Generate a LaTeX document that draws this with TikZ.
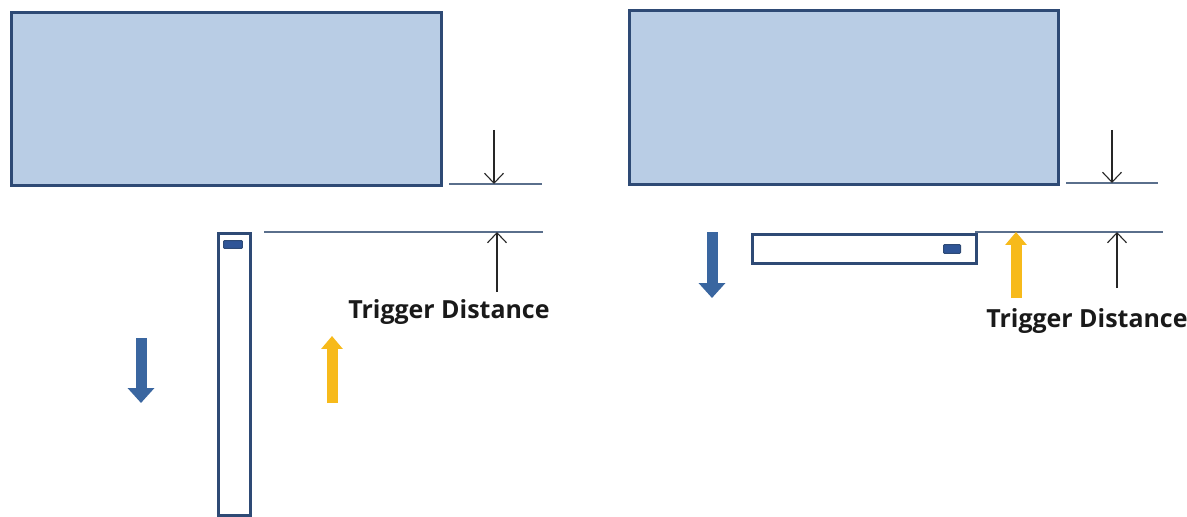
\documentclass[tikz,border=0pt]{standalone}
\usepackage{fontspec}
\setmainfont{Open Sans}
\usetikzlibrary{arrows.meta}
\definecolor{boxfill}{HTML}{B9CDE5}
\definecolor{boxline}{HTML}{2E4A75}
\definecolor{sensor}{HTML}{2F5597}
\definecolor{bluearrow}{HTML}{3A66A0}
\definecolor{yellowarrow}{HTML}{F7BA1B}
\definecolor{guide}{HTML}{5A6F8C}
\begin{document}
\begin{tikzpicture}[x=0.02cm,y=-0.02cm,
  bigbox/.style={draw=boxline,fill=boxfill,line width=0.06cm,inner sep=0pt},
  stick/.style={draw=boxline,fill=white,line width=0.06cm,inner sep=0pt},
  sensorbox/.style={draw=boxline,fill=sensor,line width=0.02cm,inner sep=0pt,rounded corners=0.02cm},
  guideline/.style={draw=guide,line width=0.024cm},
  dimarrow/.style={draw=black!85,line width=0.022cm,-{Straight Barb[length=0.2cm,width=0.38cm]}},
  bluemove/.style={draw=bluearrow,line width=0.22cm,-{Triangle[width=0.52cm,length=0.3cm]}},
  yellowmove/.style={draw=yellowarrow,line width=0.22cm,-{Triangle[width=0.42cm,length=0.26cm]}},
  label/.style={font=\bfseries\fontsize{14.2}{17}\selectfont,inner sep=0pt,text=black!90}
]
\useasboundingbox (0,0) rectangle (1187,517);
% ---- left scene ----
\node[bigbox,minimum width=8.6cm,minimum height=3.46cm,anchor=north west] (L) at (10,11) {};
\coordinate (lg1a) at (449,184); \coordinate (lg1b) at (542,184);
\draw[guideline] (lg1a) -- (lg1b);
\coordinate (lg2a) at (264,232); \coordinate (lg2b) at (543,232);
\draw[guideline] (lg2a) -- (lg2b);
\coordinate (la1s) at (494,130); \coordinate (la1e) at (494,184);
\draw[dimarrow] (la1s) -- (la1e);
\coordinate (la2s) at (497,292); \coordinate (la2e) at (497,232);
\draw[dimarrow] (la2s) -- (la2e);
\node[label,anchor=west] (LT) at (348,312) {Trigger Distance};
\node[stick,minimum width=0.64cm,minimum height=5.64cm,anchor=north west] (LS) at (217,232) {};
\node[sensorbox,minimum width=0.38cm,minimum height=0.16cm,anchor=north west] (LSen) at (223,240) {};
\coordinate (lb1) at (141,338); \coordinate (lb2) at (141,403);
\draw[bluemove] (lb1) -- (lb2);
\coordinate (ly1) at (332,403); \coordinate (ly2) at (332,336);
\draw[yellowmove] (ly1) -- (ly2);
% ---- right scene ----
\node[bigbox,minimum width=8.58cm,minimum height=3.48cm,anchor=north west] (R) at (628,9) {};
\coordinate (rg1a) at (1066,183); \coordinate (rg1b) at (1158,183);
\draw[guideline] (rg1a) -- (rg1b);
\coordinate (rg2a) at (975,232); \coordinate (rg2b) at (1163,232);
\draw[guideline] (rg2a) -- (rg2b);
\coordinate (ra1s) at (1112,130); \coordinate (ra1e) at (1112,183);
\draw[dimarrow] (ra1s) -- (ra1e);
\coordinate (ra2s) at (1117,288); \coordinate (ra2e) at (1117,232);
\draw[dimarrow] (ra2s) -- (ra2e);
\node[label,anchor=west] (RT) at (986,321) {Trigger Distance};
\node[stick,minimum width=4.48cm,minimum height=0.58cm,anchor=north west] (RS) at (751,233) {};
\node[sensorbox,minimum width=0.34cm,minimum height=0.18cm,anchor=north west] (RSen) at (943,244) {};
\coordinate (rb1) at (712,232); \coordinate (rb2) at (712,298);
\draw[bluemove] (rb1) -- (rb2);
\coordinate (ry1) at (1016,298); \coordinate (ry2) at (1016,232);
\draw[yellowmove] (ry1) -- (ry2);
\end{tikzpicture}
\end{document}
